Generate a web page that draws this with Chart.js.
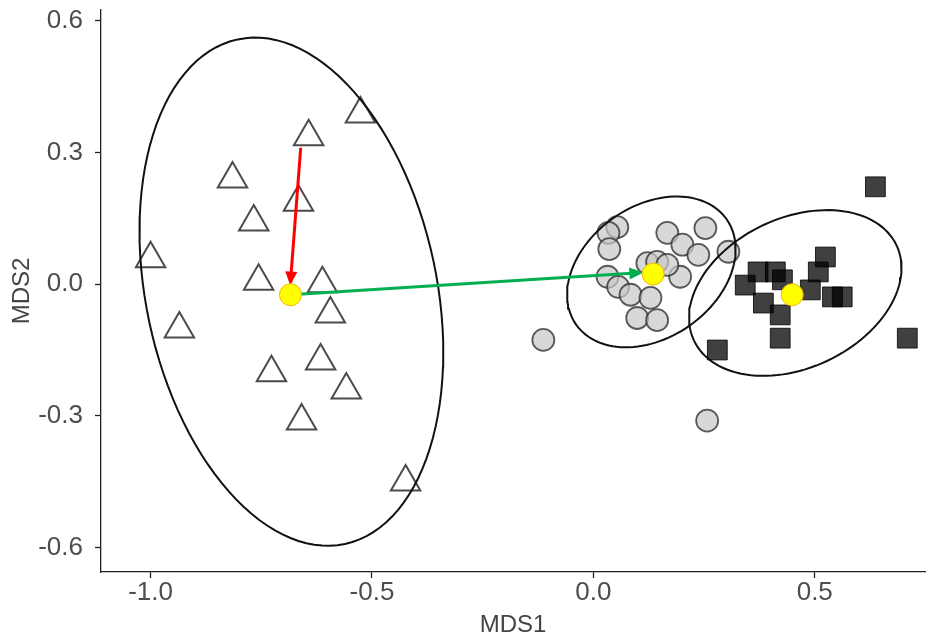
<!DOCTYPE html>
<html>
<head>
<meta charset="utf-8">
<script src="https://cdn.jsdelivr.net/npm/chart.js@4"></script>
<style>
  body { margin: 0; background: #fff; }
  #chart { display: block; }
</style>
</head>
<body>
<canvas id="chart" width="933" height="637"></canvas>
<script>
// group 1 - open triangles
const triX = [-1.000, -0.935, -0.815, -0.767, -0.756, -0.643, -0.666, -0.612, -0.594, -0.616, -0.558, -0.727, -0.659, -0.526, -0.424];
const triY = [0.058, -0.102, 0.240, 0.142, 0.007, 0.336, 0.187, 0.001, -0.068, -0.175, -0.241, -0.202, -0.312, 0.388, -0.451];
// group 2 - grey circles
const circX = [0.054, 0.034, 0.036, 0.167, 0.253, 0.201, 0.237, 0.305, 0.032, 0.056, 0.084, 0.129, 0.099, 0.144, 0.196, 0.122, 0.144, 0.167, -0.113, 0.257];
const circY = [0.130, 0.117, 0.080, 0.117, 0.128, 0.090, 0.067, 0.074, 0.017, -0.006, -0.024, -0.031, -0.077, -0.082, 0.017, 0.048, 0.051, 0.044, -0.127, -0.311];
// group 3 - dark squares
const sqX = [0.637, 0.372, 0.411, 0.427, 0.343, 0.524, 0.508, 0.490, 0.384, 0.422, 0.422, 0.540, 0.562, 0.709, 0.280];
const sqY = [0.222, 0.028, 0.028, 0.010, -0.002, 0.062, 0.028, -0.013, -0.043, -0.070, -0.123, -0.029, -0.029, -0.123, -0.150];
// group centroids (yellow)
const centX = [-0.684, 0.135, 0.449];
const centY = [-0.024, 0.023, -0.024];
// arrows: start / end
const redArrowX = [-0.661, -0.684];
const redArrowY = [0.311, 0.006];
const greenArrowX = [-0.684, 0.104];
const greenArrowY = [-0.024, 0.026];
// ellipses: centre, major axis vector, minor axis vector (data units)
const ellCx = [-0.682, 0.131, 0.456];
const ellCy = [-0.017, 0.028, -0.020];
const ellAx = [0.121, 0.170, 0.229];
const ellAy = [-0.575, 0.120, 0.108];
const ellBx = [0.321, 0.0856, 0.0716];
const ellBy = [0.069, -0.123, -0.155];
// ticks
const xTicks = [-1.0, -0.5, 0.0, 0.5];
const yTicks = [-0.6, -0.3, 0.0, 0.3, 0.6];

const zip = (xs, ys) => xs.map((x, i) => ({ x: x, y: ys[i] }));

function ellipsePoints(i) {
  const pts = [];
  for (let k = 0; k <= 120; k++) {
    const t = k / 120 * 2 * Math.PI;
    pts.push({
      x: ellCx[i] + ellAx[i] * Math.cos(t) + ellBx[i] * Math.sin(t),
      y: ellCy[i] + ellAy[i] * Math.cos(t) + ellBy[i] * Math.sin(t)
    });
  }
  return pts;
}

const arrowHeads = {
  id: 'arrowHeads',
  afterDatasetDraw(chart, args) {
    const ds = chart.data.datasets[args.index];
    if (!ds.arrow) return;
    const pts = args.meta.data;
    const a = pts[pts.length - 2], b = pts[pts.length - 1];
    const ang = Math.atan2(b.y - a.y, b.x - a.x);
    const ctx = chart.ctx;
    ctx.save();
    ctx.fillStyle = ds.borderColor;
    ctx.translate(b.x, b.y);
    ctx.rotate(ang);
    ctx.beginPath();
    ctx.moveTo(4, 0);
    ctx.lineTo(-10, -6);
    ctx.lineTo(-10, 6);
    ctx.closePath();
    ctx.fill();
    ctx.restore();
  }
};

const lineDs = (data, color, width) => ({
  data: data,
  showLine: true,
  borderColor: color,
  borderWidth: width,
  pointRadius: 0,
  fill: false,
  tension: 0
});

const tickFont = { family: "'Liberation Sans', Arial, sans-serif", size: 26, lineHeight: 1 };
const titleFont = { family: "'Liberation Sans', Arial, sans-serif", size: 24, lineHeight: 1 };

new Chart(document.getElementById('chart'), {
  type: 'scatter',
  data: {
    datasets: [
      {
        data: zip(centX, centY),
        pointStyle: 'circle',
        pointRadius: 11,
        backgroundColor: '#ffff00',
        borderColor: '#f2b600',
        borderWidth: 1
      },
      Object.assign(lineDs(zip(redArrowX, redArrowY), '#ff0000', 3), { arrow: true }),
      Object.assign(lineDs(zip(greenArrowX, greenArrowY), '#00b050', 3), { arrow: true }),
      lineDs(ellipsePoints(0), '#111', 2),
      lineDs(ellipsePoints(1), '#111', 2),
      lineDs(ellipsePoints(2), '#111', 2),
      {
        data: zip(triX, triY),
        pointStyle: 'triangle',
        pointRadius: 17,
        backgroundColor: 'rgba(0,0,0,0)',
        borderColor: 'rgba(55,55,55,0.9)',
        borderWidth: 2
      },
      {
        data: zip(circX, circY),
        pointStyle: 'circle',
        pointRadius: 11,
        backgroundColor: 'rgba(200,200,200,0.7)',
        borderColor: 'rgba(40,40,40,0.75)',
        borderWidth: 1.8
      },
      {
        data: zip(sqX, sqY),
        pointStyle: 'rect',
        pointRadius: 14,
        backgroundColor: 'rgba(0,0,0,0.75)',
        borderColor: 'rgba(0,0,0,0.8)',
        borderWidth: 1
      }
    ]
  },
  options: {
    responsive: false,
    animation: false,
    devicePixelRatio: 1,
    events: [],
    layout: { autoPadding: false, padding: { top: 10, right: 8, left: 0, bottom: 0 } },
    plugins: { legend: { display: false }, tooltip: { enabled: false } },
    scales: {
      x: {
        type: 'linear',
        min: -1.112,
        max: 0.749,
        afterBuildTicks: s => { s.ticks = xTicks.map(v => ({ value: v })); },
        afterFit: s => { s.height = 65; s.paddingLeft = 0; s.paddingRight = 0; },
        border: { color: '#222', width: 1.3 },
        grid: { drawOnChartArea: false, tickLength: 6, color: '#222', tickWidth: 1.3 },
        ticks: { font: tickFont, color: '#4d4d4d', padding: 2, callback: v => v.toFixed(1) },
        title: { display: true, text: 'MDS1', font: titleFont, color: '#444', padding: { top: 0, bottom: 0 } }
      },
      y: {
        type: 'linear',
        min: -0.656,
        max: 0.625,
        afterBuildTicks: s => { s.ticks = yTicks.map(v => ({ value: v })); },
        afterFit: s => { s.width = 101; s.paddingTop = 0; s.paddingBottom = 0; },
        border: { color: '#222', width: 1.3 },
        grid: { drawOnChartArea: false, tickLength: 6, color: '#222', tickWidth: 1.3 },
        ticks: { font: tickFont, color: '#4d4d4d', padding: 12, callback: v => v.toFixed(1) },
        title: { display: true, text: 'MDS2', font: titleFont, color: '#444', padding: { top: 10, bottom: 0 } }
      }
    }
  },
  plugins: [arrowHeads]
});
</script>
</body>
</html>
